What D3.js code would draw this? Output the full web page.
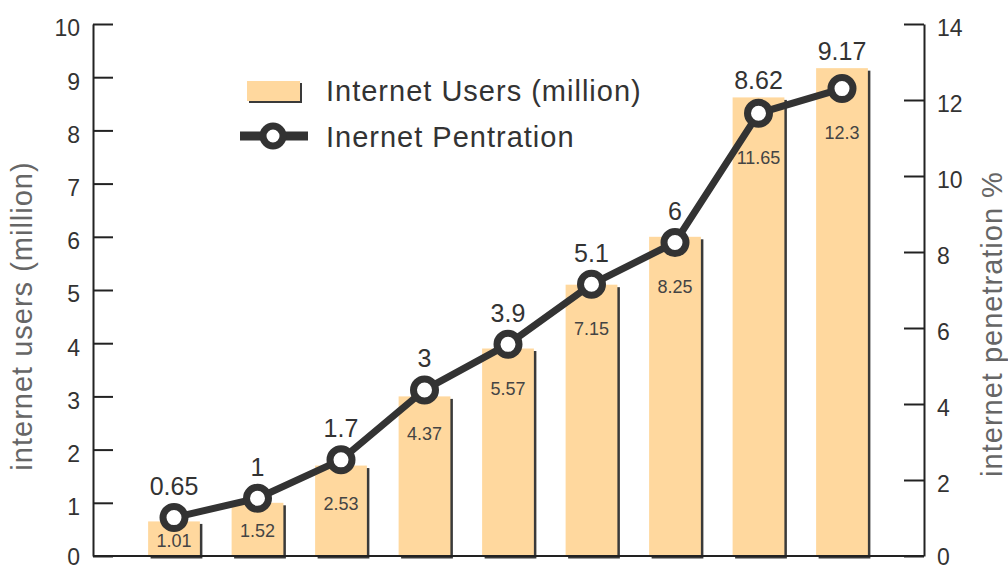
<!DOCTYPE html>
<html>
<head>
<meta charset="utf-8">
<script src="https://cdn.jsdelivr.net/npm/d3@7"></script>
<style>
  html, body { margin: 0; padding: 0; background: #fff; }
  svg { display: block; font-family: "Liberation Sans", Arial, sans-serif; }
</style>
</head>
<body>
<svg id="chart" width="1008" height="570"></svg>
<script>
// Periods along the x axis (unlabelled in the chart)
const periods = [1, 2, 3, 4, 5, 6, 7, 8, 9];
// Internet users, millions (bars, left axis)
const users = [0.65, 1, 1.7, 3, 3.9, 5.1, 6, 8.62, 9.17];
// Internet penetration, % (line, right axis)
const penetration = [1.01, 1.52, 2.53, 4.37, 5.57, 7.15, 8.25, 11.65, 12.3];
// Axis tick values
const usersTicks = [0, 1, 2, 3, 4, 5, 6, 7, 8, 9, 10];
const penetrationTicks = [0, 2, 4, 6, 8, 10, 12, 14];
// Legend entries
const legendLabels = ["Internet Users (million)", "Inernet Pentration"];
const axisTitles = ["internet users (million)", "internet penetration %"];

const svg = d3.select("#chart");
const plotLeft = 93, plotRight = 924, plotTop = 24, plotBottom = 556;
const ink = "#333";
const barFill = "#FFD89E";

const x = d3.scaleBand()
  .domain(periods)
  .range([132.25, 883.75])
  .paddingInner(0.38)
  .paddingOuter(0.19);
const yL = d3.scaleLinear().domain([0, 10]).range([plotBottom, plotTop]);
const yR = d3.scaleLinear().domain([0, 14]).range([plotBottom, plotTop]);

const rows = periods.map((p, i) => ({ p, u: users[i], pen: penetration[i] }));

// Bars with a dark drop shadow
const bars = svg.append("g");
bars.selectAll("rect.shadow").data(rows).join("rect")
  .attr("class", "shadow")
  .attr("x", d => x(d.p) + 2.5)
  .attr("y", d => yL(d.u) + 2.5)
  .attr("width", x.bandwidth())
  .attr("height", d => plotBottom - yL(d.u))
  .attr("fill", "#3a3a3a");
bars.selectAll("rect.bar").data(rows).join("rect")
  .attr("class", "bar")
  .attr("x", d => x(d.p))
  .attr("y", d => yL(d.u))
  .attr("width", x.bandwidth())
  .attr("height", d => plotBottom - yL(d.u))
  .attr("fill", barFill);

// Axes: ticks point inward, labels sit slightly below each tick
const axisL = d3.axisLeft(yL).tickValues(usersTicks).tickSizeInner(-20).tickSizeOuter(0).tickPadding(13);
const axisR = d3.axisRight(yR).tickValues(penetrationTicks).tickSizeInner(-20).tickSizeOuter(0).tickPadding(13);

function styleAxis(g) {
  g.select(".domain").attr("stroke", "#222").attr("stroke-width", 2);
  g.selectAll(".tick line").attr("stroke", "#222").attr("stroke-width", 2);
  g.selectAll(".tick text")
    .attr("fill", ink)
    .attr("font-size", 23)
    .attr("font-family", "Liberation Sans, Arial, sans-serif")
    .attr("dy", d => d === 0 ? "0.36em" : "0.52em");
}
svg.append("g").attr("transform", `translate(${plotLeft},0)`).call(axisL).call(styleAxis);
svg.append("g").attr("transform", `translate(${plotRight},0)`).call(axisR).call(styleAxis);
svg.append("line")
  .attr("x1", plotLeft).attr("x2", plotRight)
  .attr("y1", plotBottom).attr("y2", plotBottom)
  .attr("stroke", "#222").attr("stroke-width", 2);

// Axis titles
svg.append("text")
  .attr("transform", "translate(32,316) rotate(-90)")
  .attr("text-anchor", "middle")
  .attr("font-size", 29)
  .attr("letter-spacing", 1)
  .attr("fill", "#666")
  .text(axisTitles[0]);
svg.append("text")
  .attr("transform", "translate(1002,324) rotate(-90)")
  .attr("text-anchor", "middle")
  .attr("font-size", 29)
  .attr("letter-spacing", 1)
  .attr("fill", "#666")
  .text(axisTitles[1]);

// Penetration line with ring markers
const cx = d => x(d.p) + x.bandwidth() / 2;
const line = d3.line().x(cx).y(d => yR(d.pen));
svg.append("path")
  .datum(rows)
  .attr("d", line)
  .attr("fill", "none")
  .attr("stroke", ink)
  .attr("stroke-width", 7)
  .attr("stroke-linejoin", "round");
const R = 11;
svg.selectAll("circle.marker").data(rows).join("circle")
  .attr("class", "marker")
  .attr("cx", cx)
  .attr("cy", d => yR(d.pen))
  .attr("r", R)
  .attr("fill", "#fff")
  .attr("stroke", ink)
  .attr("stroke-width", 7);

// Users values above each bar / marker
svg.selectAll("text.users").data(rows).join("text")
  .attr("class", "users")
  .attr("x", cx)
  .attr("y", d => Math.min(yL(d.u), yR(d.pen) - R - 3.5) - 8)
  .attr("text-anchor", "middle")
  .attr("font-size", 25)
  .attr("fill", ink)
  .text(d => String(d.u));

// Penetration values inside each bar, below the marker
svg.selectAll("text.pen").data(rows).join("text")
  .attr("class", "pen")
  .attr("x", cx)
  .attr("y", d => {
    const cb = yR(d.pen) + R + 3.5;
    return Math.min(cb + 36, (cb + plotBottom) / 2 + 3);
  })
  .attr("text-anchor", "middle")
  .attr("font-size", 18)
  .attr("fill", "#444")
  .text(d => String(d.pen));

// Legend
const lg = svg.append("g");
lg.append("rect").attr("x", 249).attr("y", 83).attr("width", 53).attr("height", 20).attr("fill", "#3a3a3a");
lg.append("rect").attr("x", 247).attr("y", 81).attr("width", 53).attr("height", 20).attr("fill", barFill);
lg.append("line").attr("x1", 240).attr("x2", 308).attr("y1", 136).attr("y2", 136)
  .attr("stroke", ink).attr("stroke-width", 9);
lg.append("circle").attr("cx", 273).attr("cy", 136).attr("r", 10)
  .attr("fill", "#fff").attr("stroke", ink).attr("stroke-width", 7);
lg.selectAll("text").data(legendLabels).join("text")
  .attr("x", 326)
  .attr("y", (d, i) => 101 + i * 45.5)
  .attr("font-size", 29)
  .attr("letter-spacing", 1)
  .attr("fill", ink)
  .text(d => d);
</script>
</body>
</html>
